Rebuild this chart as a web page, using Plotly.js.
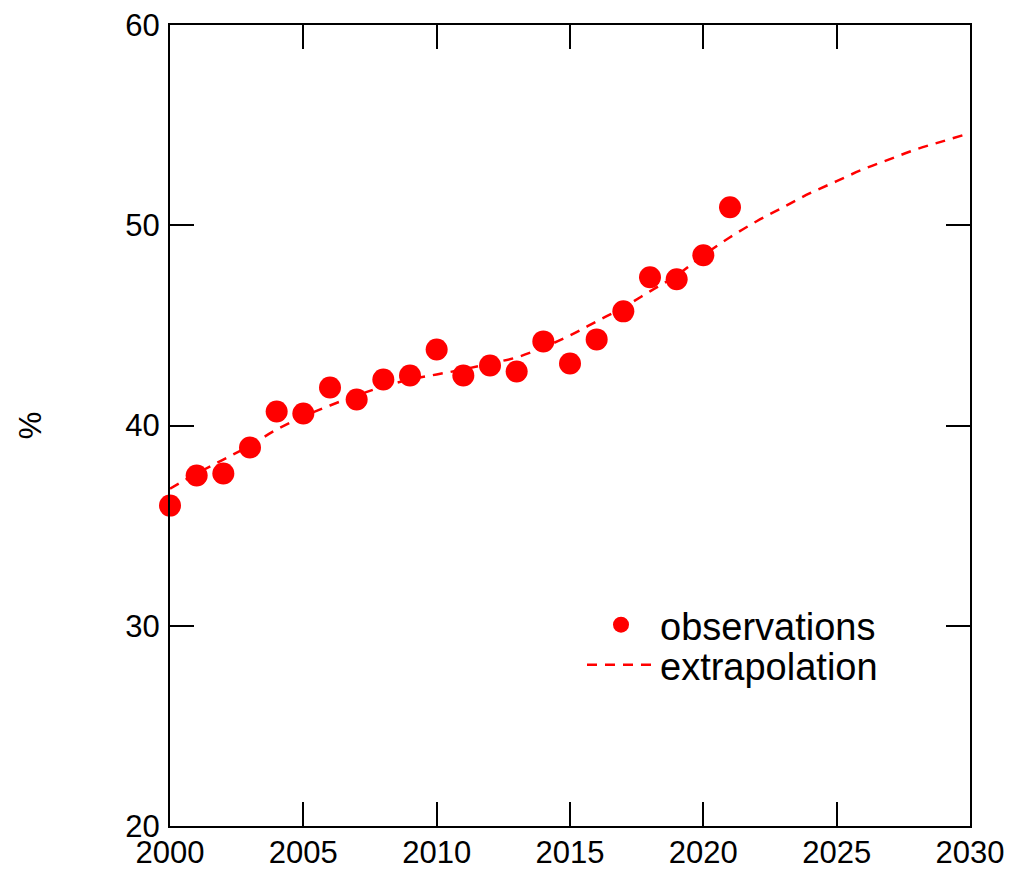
<!DOCTYPE html>
<html>
<head>
<meta charset="utf-8">
<script src="https://cdn.plot.ly/plotly-3.0.1.min.js"></script>
<style>
html,body{margin:0;padding:0;background:#fff}
#chart{width:1012px;height:871px}
</style>
</head>
<body>
<div id="chart"></div>
<script>
const obsYears = [2000,2001,2002,2003,2004,2005,2006,2007,2008,2009,2010,2011,2012,2013,2014,2015,2016,2017,2018,2019,2020,2021];
const obsValues = [36.0,37.5,37.6,38.9,40.7,40.6,41.9,41.3,42.3,42.5,43.8,42.5,43.0,42.7,44.2,43.1,44.3,45.7,47.4,47.3,48.5,50.9];
const extYears = [2000,2001,2002,2003,2004,2005,2006,2007,2008,2009,2010,2011,2012,2013,2014,2015,2016,2017,2018,2019,2020,2021,2022,2023,2024,2025,2026,2027,2028,2029,2030];
const extValues = [36.85,37.6,38.3,39.0,39.8,40.45,41.0,41.5,41.95,42.3,42.55,42.8,43.1,43.4,43.9,44.5,45.2,45.9,46.7,47.5,48.5,49.4,50.2,50.9,51.6,52.2,52.8,53.3,53.8,54.2,54.6];
const xTicks = [2000,2005,2010,2015,2020,2025,2030];
const yTicks = [20,30,40,50,60];
const seriesNames = ["observations","extrapolation"];
const yTitle = "%";

const fam = "Liberation Sans, Arial, Helvetica, sans-serif";
const tickFont = {family:fam, size:31, color:"#000"};
const legFont = {family:fam, size:38, color:"#000"};

const traces = [
  {x:obsYears, y:obsValues, type:"scatter", mode:"markers", name:seriesNames[0],
   marker:{color:"#ff0000", size:22}, cliponaxis:false, legend:"legend"},
  {x:extYears, y:extValues, type:"scatter", mode:"lines", name:seriesNames[1],
   line:{color:"#ff0000", width:2.5, dash:"10px,8px", shape:"spline"}, legend:"legend2"}
];

const axisCommon = {
  showgrid:false, zeroline:false, showline:true, linecolor:"#000", linewidth:2,
  mirror:"allticks", ticks:"inside", ticklen:24, tickwidth:2, tickcolor:"#000",
  tickfont:tickFont
};

const legCommon = {xanchor:"left", yanchor:"middle", bgcolor:"rgba(0,0,0,0)",
  font:legFont, itemwidth:68, borderwidth:0};

const layout = {
  width:1012, height:871,
  margin:{l:170, r:42, t:25, b:45},
  paper_bgcolor:"#fff", plot_bgcolor:"#fff",
  font:tickFont,
  showlegend:true,
  legend:Object.assign({}, legCommon, {x:(582-170)/800, y:(60-(625-25)/20.025-20)/40}),
  legend2:Object.assign({}, legCommon, {x:(582-170)/800, y:(60-(665-25)/20.025-20)/40}),
  xaxis:Object.assign({}, axisCommon, {range:[2000,2030], tickvals:xTicks, ticktext:xTicks.map(String), ticklabelstandoff:-2}),
  yaxis:Object.assign({}, axisCommon, {range:[20,60], tickvals:yTicks, ticktext:yTicks.map(String), ticklabelstandoff:2,
          title:{text:yTitle, font:tickFont, standoff:74}})
};

Plotly.newPlot("chart", traces, layout, {displayModeBar:false, staticPlot:true});
</script>
</body>
</html>
